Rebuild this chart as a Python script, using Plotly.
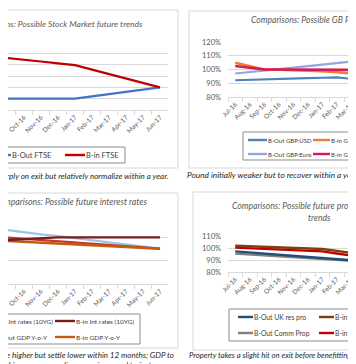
import plotly.graph_objects as go

W, H = 356, 364
FONT = "Lato, Carlito, Calibri, sans-serif"

months = ["Jul-16", "Aug-16", "Sep-16", "Oct-16", "Nov-16", "Dec-16",
          "Jan-17", "Feb-17", "Mar-17", "Apr-17", "May-17", "Jun-17"]

# Stock market (FTSE index points)
ftse_out = [5250, 5250, 5250, 5250, 5250, 5250, 5250, 5300, 5350, 5400, 5450, 5500]
ftse_in = [6225, 6190, 6150, 6110, 6070, 6030, 5990, 5890, 5790, 5700, 5600, 5500]

# GB Pound (% of pre-referendum level)
gbp_usd_out = [92.2, 92.6, 93.0, 93.3, 93.5, 93.8, 94.0, 94.3, 93.2, 94.5, 95.5, 96.5]
gbp_usd_in = [104.9, 102.5, 100.0, 99.8, 99.5, 99.2, 98.8, 98.0, 97.0, 97.5, 98.0, 98.5]
gbp_eur_out = [97.1, 98.0, 99.2, 100.3, 101.3, 102.3, 103.4, 104.6, 105.9, 106.5, 107.0, 107.5]
gbp_eur_in = [102.6, 101.3, 100.0, 100.0, 100.0, 99.9, 99.8, 99.7, 99.6, 99.6, 99.6, 99.6]

# Interest rates (10YG) and GDP Y-o-Y (%)
int_out = [2.50, 2.40, 2.32, 2.22, 2.13, 2.05, 1.96, 1.87, 1.78, 1.70, 1.61, 1.52]
int_in = [1.80, 1.84, 1.88, 1.92, 1.96, 2.00, 2.00, 2.00, 2.00, 2.00, 2.00, 2.00]
gdp_out = [2.10, 2.05, 1.99, 1.94, 1.88, 1.83, 1.78, 1.73, 1.67, 1.62, 1.57, 1.52]
gdp_in = [1.92, 1.88, 1.84, 1.80, 1.76, 1.73, 1.69, 1.65, 1.62, 1.58, 1.55, 1.51]

# Property (% of pre-referendum level)
res_out = [97.2, 96.3, 95.3, 94.4, 93.4, 92.5, 91.5, 90.6, 89.8, 89.5, 89.8, 90.5]
res_in = [101.9, 101.5, 101.0, 100.6, 100.1, 99.7, 99.2, 97.6, 95.9, 96.5, 97.5, 98.5]
comm_out = [95.3, 94.6, 93.8, 93.0, 92.2, 91.3, 90.6, 90.0, 89.4, 89.5, 90.0, 90.8]
comm_in = [100.3, 99.8, 99.3, 98.7, 98.2, 97.7, 97.2, 95.4, 93.7, 94.5, 95.5, 96.5]


def fx(p):
    return p / W


def fy(p):
    return 1 - p / H


fig = go.Figure()
shapes = []
ann = []


def add(xa, ya, vals, name, color, width, key=None):
    """Add a series; key = (sample_x0, sample_x1, row_y, font_size) for its legend key."""
    fig.add_trace(go.Scatter(
        x=months, y=vals, name=name, mode="lines",
        line=dict(color=color, width=width),
        xaxis=xa, yaxis=ya, showlegend=False, hoverinfo="skip"))
    if key:
        sx0, sx1, ry, fs = key
        shapes.append(dict(type="line", xref="paper", yref="paper",
                           x0=fx(sx0), x1=fx(sx1), y0=fy(ry), y1=fy(ry),
                           line=dict(color=color, width=2.4)))
        ann.append(dict(text=name, x=fx(sx1), y=fy(ry), xref="paper", yref="paper",
                        xanchor="left", yanchor="middle", showarrow=False,
                        borderpad=0, font=dict(family=FONT, size=fs, color="#404040")))


# top-left: stock market
add("x", "y", ftse_out, "B-Out FTSE", "#4472C4", 2.2, (-17, 3, 147, 7.5))
add("x", "y", ftse_in, "B-in FTSE", "#C00000", 2.2, (57, 77, 147, 7.5))

# top-right: GB pound
add("x2", "y2", gbp_usd_out, "B-Out GBP:USD", "#4F81BD", 2.2, (240, 259, 132, 6.0))
add("x2", "y2", gbp_eur_out, "B-Out GBP:Euro", "#8EA9DB", 2.2, (240, 259, 146, 6.0))
add("x2", "y2", gbp_usd_in, "B-in GBP:USD", "#ED7D31", 2.6, (305, 322, 132, 6.0))
add("x2", "y2", gbp_eur_in, "B-in GBP:Euro", "#D6195A", 2.6, (305, 322, 146, 6.0))

# bottom-left: interest rates / GDP
add("x3", "y3", int_out, "B-Out Int rates (10YG)", "#9DC3E6", 2.2, (-40, -20, 313, 6.5))
add("x3", "y3", gdp_out, "B-Out GDP Y-o-Y", "#C0392B", 2.2, (-30, -12, 329, 6.5))
add("x3", "y3", gdp_in, "B-in GDP Y-o-Y", "#C55A11", 2.4, (47, 67, 329, 6.5))
add("x3", "y3", int_in, "B-in Int rates (10YG)", "#7B1C1C", 2.4, (47, 67, 313, 6.5))

# bottom-right: property
add("x4", "y4", comm_out, "B-Out Comm Prop", "#7F7F7F", 2.4, (230, 245, 325, 6.8))
add("x4", "y4", res_out, "B-Out UK res pro", "#1F4E79", 2.4, (230, 245, 309, 6.8))
add("x4", "y4", comm_in, "B-in Comm Prop", "#C00000", 2.4, (311, 326, 325, 6.8))
add("x4", "y4", res_in, "B-in UK res pro", "#843C0C", 2.4, (311, 326, 309, 6.8))

GRID = "#D9D9D9"
TICKF = dict(family=FONT, size=6.5, color="#595959")


def xaxis(domain, rng, anchor):
    return dict(domain=domain, anchor=anchor, type="category", categoryorder="array",
                categoryarray=months, range=rng, tickangle=-45,
                tickfont=TICKF, showgrid=False, showline=True, linecolor=GRID,
                linewidth=1, ticks="outside", tickson="boundaries", ticklen=4,
                tickcolor=GRID, zeroline=False, fixedrange=True)


def yaxis(domain, rng, dtick, labels, anchor, suffix=""):
    return dict(domain=domain, anchor=anchor, range=rng, dtick=dtick, showgrid=True,
                gridcolor=GRID, gridwidth=1, zeroline=False, showline=False,
                showticklabels=labels, ticksuffix=suffix,
                tickfont=dict(family=FONT, size=7.5, color="#595959"),
                ticks="", ticklabelstandoff=6, fixedrange=True)


FRAME = "#D9D9D9"
BOX = "#8C8C8C"
for x0, y0, x1, y1, col in [(-5, 2, 170, 160, FRAME), (181, 3, 420, 160, FRAME),
                            (-5, 185, 170, 340, FRAME), (185, 184, 420, 342, FRAME),
                            (-5, 139, 117, 155, BOX), (235, 124, 420, 152, BOX),
                            (-5, 306, 132, 336, BOX), (221, 301, 420, 333, BOX)]:
    shapes.insert(0, dict(type="rect", xref="paper", yref="paper",
                          x0=fx(x0), x1=fx(x1), y0=fy(y1), y1=fy(y0),
                          line=dict(color=col, width=1), fillcolor="rgba(0,0,0,0)",
                          layer="below"))

TITLE = dict(family=FONT, color="#595959")
CAP = dict(family=FONT, color="#262626", size=8)


def note(text, x, y, xanchor, font, align="left"):
    ann.append(dict(text=text, x=fx(x), y=fy(y), xref="paper", yref="paper",
                    xanchor=xanchor, yanchor="middle", showarrow=False,
                    font=font, align=align))


note("<i>Comparisons: Possible Stock Market future trends</i>", 137, 16, "right", dict(TITLE, size=8.5))
note("<i>Comparisons: Possible GB Pound future trends</i>", 241, 12, "left", dict(TITLE, size=8.6))
note("<i>Comparisons: Possible future interest rates</i>", 141, 193, "right", dict(TITLE, size=8.7))
note("<i>Comparisons: Possible future property market</i>", 222, 198, "left", dict(TITLE, size=8.6))
note("<i>trends</i>", 311, 210, "center", dict(TITLE, size=8.6))

note("<i>Stock market expected to fall sharply on exit but relatively normalize within a year.</i>",
     163, 168, "right", CAP)
note("<i>Pound initially weaker but to recover within a year, if not stronger.</i>",
     177, 167, "left", dict(CAP, size=8.3))
note("<i>Interest rates likely to rise higher but settle lower within 12 months; GDP to</i>",
     168, 347, "right", CAP)
note("<i>fall but within a year normalize on an improved trajectory</i>",
     156, 357, "right", CAP)
note("<i>Property takes a slight hit on exit before benefitting from the recovery.</i>",
     179, 347, "left", dict(CAP, size=7.7))

fig.update_layout(
    width=W, height=H,
    margin=dict(l=0, r=0, t=0, b=0, pad=0, autoexpand=False),
    paper_bgcolor="white", plot_bgcolor="white",
    font=dict(family=FONT, color="#595959"),
    showlegend=False,
    xaxis=xaxis([0, fx(160)], [2.06, 11.47], "y"),
    yaxis=yaxis([fy(102), fy(34)], [5000, 6500], 250, False, "x"),
    xaxis2=xaxis([fx(220), 1], [-0.5, 8.875], "y2"),
    yaxis2=yaxis([fy(89), fy(34)], [80, 120], 10, True, "x2", "%"),
    xaxis3=xaxis([0, fx(160)], [2.06, 11.47], "y3"),
    yaxis3=yaxis([fy(276), fy(206)], [0, 3], 1, False, "x3"),
    xaxis4=xaxis([fx(220), 1], [-0.5, 8.875], "y4"),
    yaxis4=yaxis([fy(264), fy(228)], [80, 110], 10, True, "x4", "%"),
    shapes=shapes,
    annotations=ann,
)
fig.write_html("out.html", config={"displayModeBar": False})
